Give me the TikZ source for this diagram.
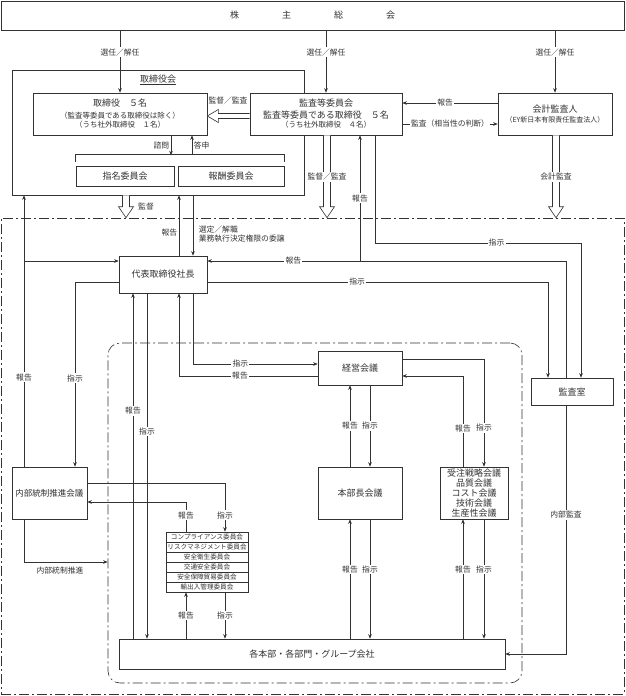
\documentclass[tikz,border=0pt]{standalone}
\usepackage{fontspec}
\setmainfont{Noto Sans CJK JP}
\usetikzlibrary{arrows.meta, calc}

\newcommand{\subfont}{\fontsize{7.5}{9}\selectfont}
% open block arrows
\newcommand{\hollowdown}[2]{%
  \draw[fill=white] let \p1=#1, \p2=#2 in
    (\x1-3.5pt,\y1) -- (\x1-3.5pt,\y2+11pt) -- (\x1-7.5pt,\y2+11pt) -- (\x1,\y2)
    -- (\x1+7.5pt,\y2+11pt) -- (\x1+3.5pt,\y2+11pt) -- (\x1+3.5pt,\y1);}
\newcommand{\hollowleft}[2]{%
  \draw[fill=white] let \p1=#1, \p2=#2 in
    (\x1,\y1+2.5pt) -- (\x2+11pt,\y1+2.5pt) -- (\x2+11pt,\y1+6.5pt) -- (\x2,\y1)
    -- (\x2+11pt,\y1-6.5pt) -- (\x2+11pt,\y1-2.5pt) -- (\x1,\y1-2.5pt);}

\begin{document}
\begin{tikzpicture}[x=1pt, y=-1pt, >={Stealth[length=4.5pt, width=3.6pt]},
    line width=0.6pt, color=black!80,
    box/.style={draw, fill=white, align=center, inner sep=0pt, font=\fontsize{9}{10.5}\selectfont},
    lbl/.style={fill=white, inner sep=1.2pt, font=\fontsize{7.8}{9}\selectfont},
    note/.style={inner sep=1.5pt, font=\fontsize{7.8}{9}\selectfont},
    iin/.style={draw, fill=white, minimum width=82pt, minimum height=10pt, inner sep=0pt, font=\fontsize{6.6}{7}\selectfont},
    zone/.style={draw, dash pattern=on 10pt off 3pt on 2pt off 3pt}]
    \useasboundingbox (0,0) rectangle (625,696);

    % frames
    \node[zone, minimum width=623pt, minimum height=476pt] (gyoumu) at (312.5,456) {};
    \node[zone, rounded corners=12pt, minimum width=414pt, minimum height=340pt] (kaigi) at (315,513) {};
    \node[draw, minimum width=292pt, minimum height=125pt] (torikai) at (158,132.5) {};
    \node[font=\fontsize{9}{10}\selectfont] (toritl) at (158,80) {\underline{取締役会}};

    % boxes
    \node[box, minimum width=623pt, minimum height=29pt] (soukai) at (312.5,15.5) {株\hspace{43pt}主\hspace{43pt}総\hspace{43pt}会};
    \node[box, minimum width=174pt, minimum height=42pt] (tori) at (120,114)
        {取締役　５名\\[1.5pt]{\subfont （監査等委員である取締役は除く）}\\[-1.5pt]{\subfont （うち社外取締役　１名）}};
    \node[box, minimum width=152pt, minimum height=42pt] (kansa) at (326,114)
        {監査等委員会\\[1.5pt]監査等委員である取締役　５名\\[-1.5pt]{\subfont （うち社外取締役　４名）}};
    \node[box, minimum width=114pt, minimum height=42pt] (kaikei) at (555,114)
        {会計監査人\\{\fontsize{7}{8}\selectfont （EY新日本有限責任監査法人）}};
    \node[box, minimum width=98pt, minimum height=20pt] (shimei) at (125,176) {指名委員会};
    \node[box, minimum width=106pt, minimum height=20pt] (hoshu) at (231,176) {報酬委員会};
    \node[box, minimum width=88pt, minimum height=37pt] (daihyo) at (163,274.5) {代表取締役社長};
    \node[box, minimum width=84pt, minimum height=34pt] (keiei) at (360,368) {経営会議};
    \node[box, minimum width=84pt, minimum height=52pt] (honbu) at (360,493) {本部長会議};
    \node[box, minimum width=68pt, minimum height=52pt, font=\fontsize{9}{10}\selectfont] (juchu) at (474,493)
        {受注戦略会議\\品質会議\\コスト会議\\技術会議\\生産性会議};
    \node[box, minimum width=75pt, minimum height=52pt, font=\fontsize{8.5}{10}\selectfont] (naibu) at (49.5,493) {内部統制推進会議};
    \node[box, minimum width=82pt, minimum height=27pt] (kanshitsu) at (572,391.5) {監査室};
    \node[box, minimum width=386pt, minimum height=30pt] (kakubu) at (312,654) {各本部・各部門・グループ会社};
    \foreach \t [count=\i] in {コンプライアンス委員会, リスクマネジメント委員会, 安全衛生委員会,
        交通安全委員会, 安全保障貿易委員会, 輸出入管理委員会}
        \node[iin] (iin\i) at (207,527+10*\i) {\t};

    % bracket over committees
    \draw (shimei.north west) ++(0,-4) -- ++(0,-7) -| ([yshift=4pt]hoshu.north east);

    % shareholders
    \draw[->] (soukai.south -| tori.north) -- (tori.north) node[lbl, pos=0.35] {選任／解任};
    \draw[->] (soukai.south -| kansa.north) -- (kansa.north) node[lbl, pos=0.35] {選任／解任};
    \draw[->] (soukai.south -| kaikei.north) -- (kaikei.north) node[lbl, pos=0.35] {選任／解任};

    % board
    \draw[->] (tori.south -| 171,0) -- ++(0,20) node[note, midway, left] {諮問};
    \draw[<-] (tori.south -| 192,0) -- ++(0,20) node[note, midway, right] {答申};
    \draw[->] (kaikei.west |- 0,103) -- (kansa.east |- 0,103) node[lbl, pos=0.55] {報告};
    \draw[->] (kansa.east |- 0,124) -- (kaikei.west |- 0,124) node[lbl, midway] {監査（相当性の判断）};

    % president
    \draw[->] (daihyo.north -| 179,0) -- (torikai.south -| 179,0) node[note, pos=0.38, left] {報告};
    \draw[->] (torikai.south -| 193,0) -- (daihyo.north -| 193,0);
    \node[note, anchor=west, align=left] (sentei) at (197,234) {選定／解職\\業務執行決定権限の委譲};
    \draw[->] (naibu.north -| 24,0) -- (torikai.south -| 24,0) node[lbl, pos=0.33] {報告};
    \draw[->] (24,261) -- (daihyo.west |- 0,261);
    \draw[->] (daihyo.west |- 0,282) -| (naibu.north -| 75,0) node[lbl, pos=0.76] {指示};

    % audit office
    \draw[->] (kanshitsu.north -| 566,0) |- (daihyo.east |- 0,261) node[lbl, pos=0.88] {報告};
    \draw[->] (360,261) -- (kansa.south -| 360,0) node[lbl, midway] {報告};
    \draw[->] (kansa.south -| 375,0) -- (375,243) -- (581,243) node[lbl, pos=0.59] {指示}
        -- (kanshitsu.north -| 581,0);
    \draw[->] (daihyo.east |- 0,282) -| (kanshitsu.north -| 548,0) node[lbl, pos=0.22] {指示};
    \draw[->] (kanshitsu.south -| 566,0) |- (kakubu.east) node[lbl, pos=0.22] {内部監査};

    % management meeting
    \draw[->] (daihyo.south -| 193,0) |- (keiei.west |- 0,364) node[lbl, pos=0.69] {指示};
    \draw[->] (keiei.west |- 0,376) -| (daihyo.south -| 179,0) node[lbl, pos=0.28] {報告};
    \draw[->] (kakubu.north -| 133,0) -- (daihyo.south -| 133,0) node[lbl, pos=0.66] {報告};
    \draw[->] (daihyo.south -| 147,0) -- (kakubu.north -| 147,0) node[lbl, pos=0.40] {指示};
    \draw[->] (honbu.north -| 350,0) -- (keiei.south -| 350,0) node[lbl, midway] {報告};
    \draw[->] (keiei.south -| 370,0) -- (honbu.north -| 370,0) node[lbl, midway] {指示};
    \draw[->] (keiei.east |- 0,359) -| (juchu.north -| 484,0) node[lbl, pos=0.82] {指示};
    \draw[->] (juchu.north -| 463,0) |- (keiei.east |- 0,376) node[lbl, pos=0.21] {報告};
    \draw[->] (kakubu.north -| 350,0) -- (honbu.south -| 350,0) node[lbl, pos=0.58] {報告};
    \draw[->] (honbu.south -| 370,0) -- (kakubu.north -| 370,0) node[lbl, pos=0.42] {指示};
    \draw[->] (kakubu.north -| 463,0) -- (juchu.south -| 463,0) node[lbl, pos=0.58] {報告};
    \draw[->] (juchu.south -| 484,0) -- (kakubu.north -| 484,0) node[lbl, pos=0.42] {指示};

    % internal control
    \draw[->] (naibu.east |- 0,483) -| (iin1.north -| 225,0) node[lbl, pos=0.83] {指示};
    \draw[->] (iin1.north -| 186,0) |- (naibu.east |- 0,502) node[lbl, pos=0.28] {報告};
    \draw[->] (kakubu.north -| 186,0) -- (iin6.south -| 186,0) node[lbl, midway] {報告};
    \draw[->] (iin6.south -| 225,0) -- (kakubu.north -| 225,0) node[lbl, midway] {指示};
    \draw[->] (naibu.south -| 24,0) |- (kaigi.west |- 0,562);
    \node[note] (suishin) at (60,571) {内部統制推進};

    % supervision
    \hollowleft{(kansa.west |- 0,116)}{(tori.east |- 0,116)}
    \node[note] (kantoku1) at (228,101) {監督／監査};
    \hollowdown{(torikai.south -| 126,0)}{(gyoumu.north -| 126,0)}
    \node[note] (kantoku2) at (146,207) {監督};
    \hollowdown{(kansa.south -| 327,0)}{(gyoumu.north -| 327,0)}
    \node[lbl] (kantoku3) at (327,177) {監督／監査};
    \hollowdown{(kaikei.south -| 556,0)}{(gyoumu.north -| 556,0)}
    \node[lbl] (kaikeikansa) at (556,177) {会計監査};
\end{tikzpicture}
\end{document}
